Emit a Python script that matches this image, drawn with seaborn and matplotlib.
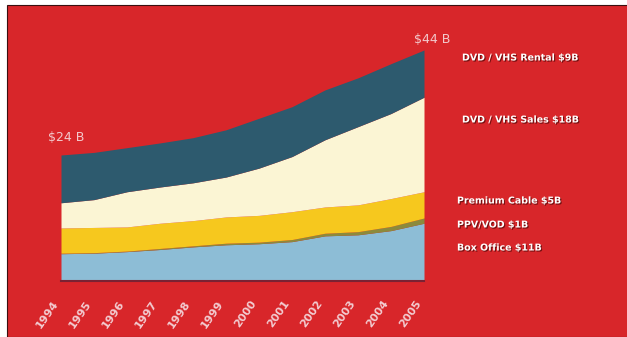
import matplotlib
matplotlib.use("Agg")
import matplotlib.pyplot as plt
import matplotlib.patheffects as pe
import matplotlib.transforms as mtransforms
from matplotlib.patches import Rectangle
import seaborn as sns
import numpy as np

years = [1994, 1995, 1996, 1997, 1998, 1999, 2000, 2001, 2002, 2003, 2004, 2005]
box_office = [5.2, 5.3, 5.6, 6.0, 6.5, 6.9, 7.1, 7.5, 8.6, 8.8, 9.6, 11.0]
ppv_vod = [0.1, 0.1, 0.1, 0.2, 0.2, 0.3, 0.3, 0.4, 0.5, 0.6, 0.8, 1.0]
premium_cable = [4.8, 4.8, 4.6, 4.8, 4.8, 5.0, 5.1, 5.3, 5.0, 5.1, 5.3, 5.0]
dvd_vhs_sales = [4.8, 5.3, 6.7, 6.9, 7.2, 7.6, 9.0, 10.5, 12.8, 14.9, 16.2, 18.0]
dvd_vhs_rental = [9.1, 9.0, 8.4, 8.4, 8.6, 9.0, 9.5, 9.5, 9.5, 9.3, 9.5, 9.0]
series_labels = ["Box Office $11B", "PPV/VOD $1B", "Premium Cable $5B",
                 "DVD / VHS Sales $18B", "DVD / VHS Rental $9B"]
start_label = "$24 B"
end_label = "$44 B"

sns.set_style("white")
plt.rcParams['font.family'] = ['DejaVu Sans']

colors = sns.color_palette(["#8dbdd6", "#8c8a3c", "#f6c81e", "#fbf5d4", "#2d5a6e"])

fig = plt.figure(figsize=(6.27, 3.37), dpi=100)
fig.patch.set_facecolor("white")
red = "#d8262a"
bg = Rectangle((7/627, 0), 1, (337-5)/337, transform=fig.transFigure,
               facecolor=red, edgecolor="#3a1010", lw=0.8, zorder=-10)
fig.patches.append(bg)

ax = fig.add_axes([61/627, (337-281)/337, (424-61)/627, (281-50)/337])
ax.set_zorder(5)
ax.set_facecolor("none")
ax.stackplot(years, box_office, ppv_vod, premium_cable, dvd_vhs_sales, dvd_vhs_rental,
             colors=colors, lw=0)
ax.set_xlim(years[0], years[-1])
ax.set_ylim(0, 44)
for s in ["top", "right", "left"]:
    ax.spines[s].set_visible(False)
ax.spines["bottom"].set_color("#7a2233")
ax.spines["bottom"].set_linewidth(1.5)
ax.set_yticks([])
ax.set_xticks(years)
ax.set_xticklabels([str(y) for y in years], rotation=55, ha="right", va="top",
                   rotation_mode="anchor", color="#f3cdd2", fontsize=8, fontweight="bold")
ax.tick_params(axis="x", length=0, pad=14)
offset = mtransforms.ScaledTranslation(-9/100, 2/100, fig.dpi_scale_trans)
for lbl in ax.get_xticklabels():
    lbl.set_transform(lbl.get_transform() + offset)

shadow = [pe.withSimplePatchShadow(offset=(0.8, -0.8), shadow_rgbFace="#5a0a0a", alpha=0.8)]

tot0 = box_office[0] + ppv_vod[0] + premium_cable[0] + dvd_vhs_sales[0] + dvd_vhs_rental[0]
totN = box_office[-1] + ppv_vod[-1] + premium_cable[-1] + dvd_vhs_sales[-1] + dvd_vhs_rental[-1]
ax.annotate(start_label, (years[0], tot0), xytext=(-9, 8), textcoords="offset points",
            color="#f3c9cc", fontsize=9, ha="left", va="bottom", annotation_clip=False)
ax.annotate(end_label, (years[-1], totN), xytext=(-7, 3), textcoords="offset points",
            color="#f3c9cc", fontsize=9, ha="left", va="bottom", annotation_clip=False)

label_y = [248, 225, 201, 120, 58]
label_x = [457, 457, 457, 462, 462]
for lab, lx, ly in zip(series_labels, label_x, label_y):
    fig.text(lx/627, 1 - ly/337, lab, color="white", fontsize=6.8, fontweight="bold",
             ha="left", va="center", path_effects=shadow, zorder=6)

fig.savefig("out.png", dpi=100)
